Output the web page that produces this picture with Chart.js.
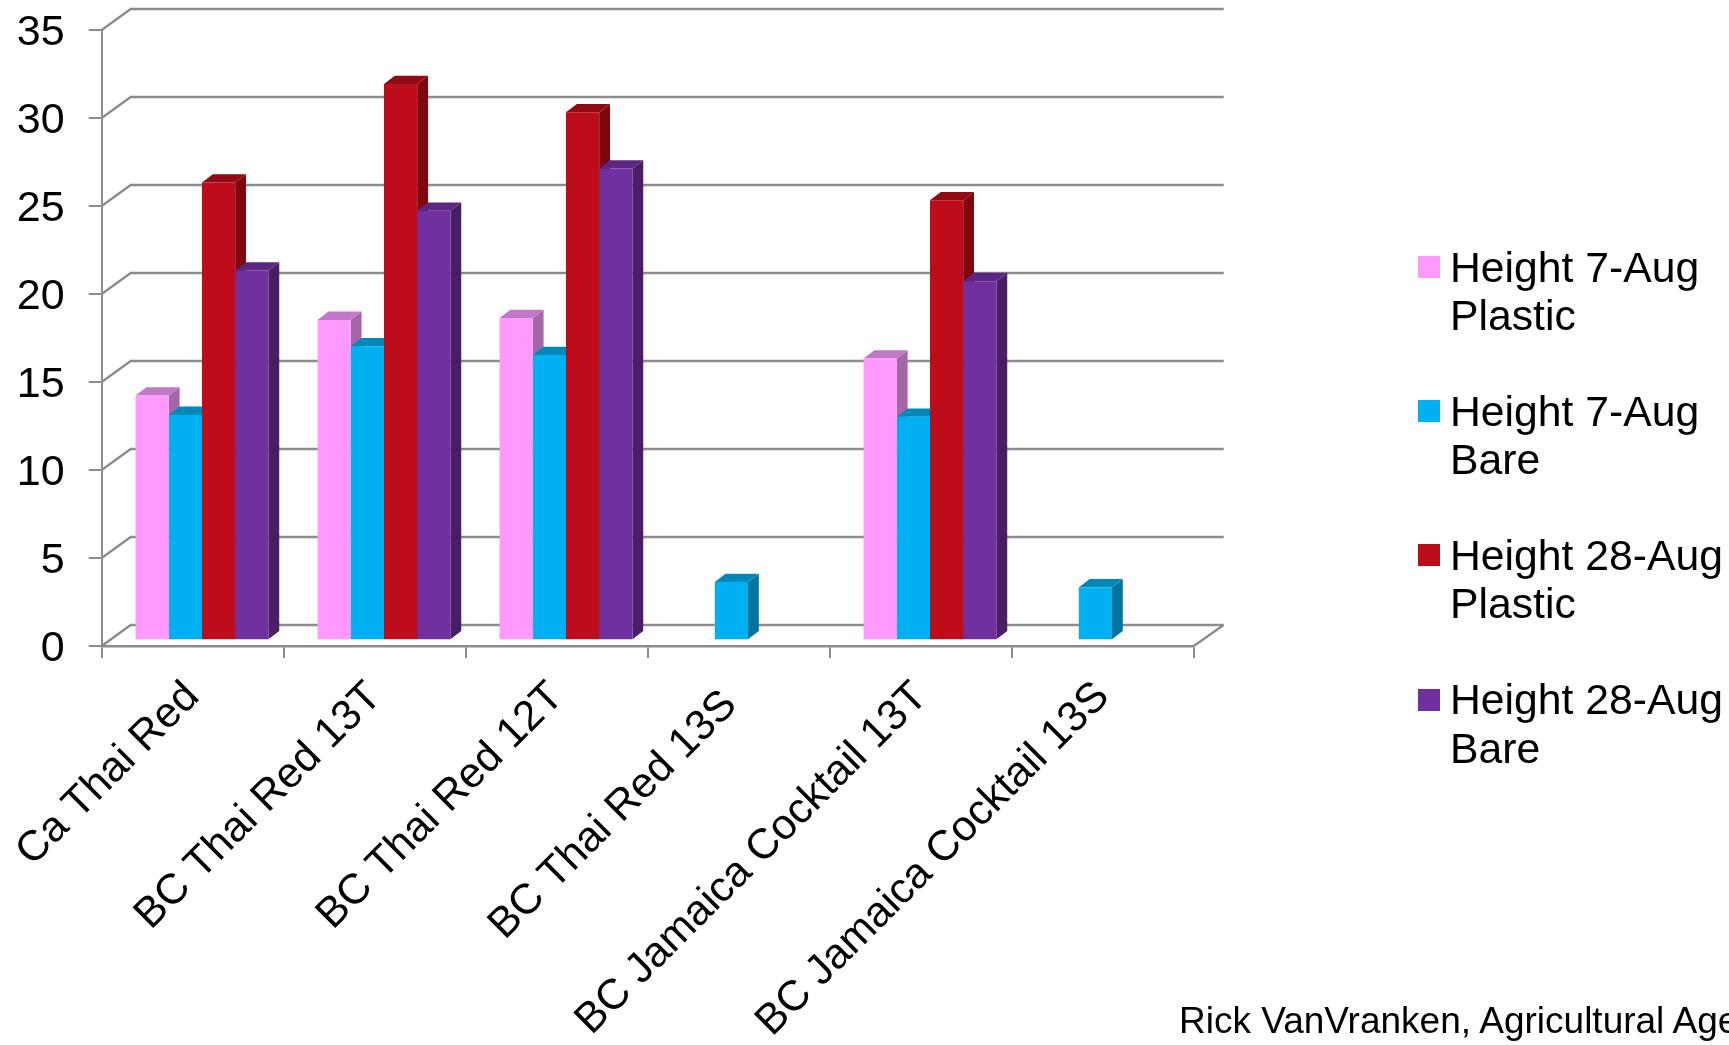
<!DOCTYPE html>
<html>
<head>
<meta charset="utf-8">
<title>Pepper heights</title>
<script src="https://cdn.jsdelivr.net/npm/chart.js@4"></script>
<style>
  html, body { margin: 0; padding: 0; background: #fff; overflow: hidden; }
  body { width: 1729px; height: 1045px; position: relative; font-family: "Liberation Sans", Arial, sans-serif; color: #000; }
  canvas { position: absolute; left: 0; top: 0; }
  #legend { position: absolute; left: 1418px; top: 242.5px; }
  .legend-item { position: relative; width: 311px; height: 97.2px; margin-bottom: 47px; padding-left: 32px; box-sizing: border-box; font-size: 42.7px; line-height: 48.6px; }
  .legend-item i { position: absolute; left: 0; top: 13.5px; width: 22px; height: 22px; }
  #credit { position: absolute; left: 1179px; top: 1000px; font-size: 37px; white-space: nowrap; }
</style>
</head>
<body>
<canvas id="heightChart" width="1729" height="1045"></canvas>
<div id="legend"></div>
<div id="credit">Rick VanVranken, Agricultural Agent</div>

<script>
// ================= DATA =================
const categories = [
  "Ca Thai Red",
  "BC Thai Red 13T",
  "BC Thai Red 12T",
  "BC Thai Red 13S ",
  "BC Jamaica Cocktail 13T",
  "BC Jamaica Cocktail 13S",
];
const seriesLabels = [
  "Height 7-Aug Plastic",
  "Height 7-Aug Bare",
  "Height 28-Aug Plastic",
  "Height 28-Aug Bare",
];
const aug7Plastic = [13.9, 18.2, 18.3, null, 16.0, null];
const aug7Bare = [12.8, 16.7, 16.2, 3.3, 12.7, 3.0];
const aug28Plastic = [26.0, 31.6, 30.0, null, 25.0, null];
const aug28Bare = [21.0, 24.4, 26.8, null, 20.4, null];
const yTicks = [0, 5, 10, 15, 20, 25, 30, 35];

// ================= COLORS =================
const frontColors = ["#FF99FF", "#00B0F0", "#BE0D1A", "#7030A0"];
const topColors = ["#C278C6", "#0088B8", "#8F0A14", "#5A2682"];
const sideColors = ["#A466A6", "#00749E", "#7E0710", "#4A1E66"];
const gridColor = "#8C8C8C";

// ================= 3D OFFSETS =================
const wall = { dx: 29, dy: 21 }; // front plane to back wall
const plane = { dx: 9.3, dy: 5.8 }; // front plane to bar fronts
const depth = { dx: 10.8, dy: 8.3 }; // bar front to bar back

function fillPoly(ctx, color, pts) {
  ctx.fillStyle = color;
  ctx.beginPath();
  pts.forEach((p, i) => (i ? ctx.lineTo(p[0], p[1]) : ctx.moveTo(p[0], p[1])));
  ctx.closePath();
  ctx.fill();
}

// back wall, floor and the slanted ends of the grid lines
const wallsPlugin = {
  id: "walls",
  beforeDatasetsDraw(chart) {
    const { ctx, chartArea, scales } = chart;
    ctx.save();
    ctx.strokeStyle = gridColor;
    ctx.lineWidth = 2.4;
    ctx.beginPath();
    yTicks.forEach((v) => {
      const y = scales.y.getPixelForValue(v);
      ctx.moveTo(chartArea.left, y);
      ctx.lineTo(chartArea.left + wall.dx, y - wall.dy);
      ctx.lineTo(chartArea.right + wall.dx + 1, y - wall.dy);
    });
    ctx.moveTo(chartArea.right, chartArea.bottom);
    ctx.lineTo(chartArea.right + wall.dx + 1, chartArea.bottom - wall.dy);
    ctx.stroke();
    ctx.restore();
  },
};

// side and top faces go first, the library then paints the fronts over them
const boxPlugin = {
  id: "boxes",
  beforeDatasetsDraw(chart) {
    const { ctx } = chart;
    ctx.save();
    ctx.translate(plane.dx, -plane.dy);
    categories.forEach((_, c) => {
      chart.data.datasets.forEach((ds, s) => {
        if (ds.data[c] === null) return;
        const bar = chart.getDatasetMeta(s).data[c];
        const left = bar.x - bar.width / 2;
        const right = bar.x + bar.width / 2;
        fillPoly(ctx, sideColors[s], [
          [right, bar.y],
          [right + depth.dx, bar.y - depth.dy],
          [right + depth.dx, bar.base - depth.dy],
          [right, bar.base],
        ]);
        fillPoly(ctx, topColors[s], [
          [left, bar.y],
          [left + depth.dx, bar.y - depth.dy],
          [right + depth.dx, bar.y - depth.dy],
          [right, bar.y],
        ]);
      });
    });
  },
  afterDatasetsDraw(chart) {
    chart.ctx.restore();
  },
};

// ================= CHART =================
const yFont = { family: '"Liberation Sans", Arial, sans-serif', size: 43 };
const xFont = { family: '"Liberation Sans", Arial, sans-serif', size: 42.5 };
const allSeries = [aug7Plastic, aug7Bare, aug28Plastic, aug28Bare];

new Chart(document.getElementById("heightChart"), {
  type: "bar",
  data: {
    labels: categories,
    datasets: allSeries.map((values, i) => ({
      label: seriesLabels[i],
      data: values,
      backgroundColor: frontColors[i],
      borderWidth: 0,
      categoryPercentage: 0.73,
      barPercentage: 1,
      clip: false,
    })),
  },
  options: {
    responsive: false,
    animation: false,
    layout: { padding: { left: 0, right: 535.3, top: 30, bottom: 0 } },
    plugins: { legend: { display: false }, tooltip: { enabled: false } },
    scales: {
      x: {
        grid: { drawOnChartArea: false, color: gridColor, lineWidth: 2, tickLength: 12 },
        border: { color: gridColor, width: 2.4 },
        ticks: {
          color: "#000",
          font: xFont,
          minRotation: 45,
          maxRotation: 45,
          autoSkip: false,
          padding: 14,
        },
        afterFit(scale) {
          scale.height = 399;
          scale.paddingLeft = 0;
          scale.paddingRight = 0;
        },
      },
      y: {
        min: 0,
        max: 35,
        grid: { drawOnChartArea: false, color: gridColor, lineWidth: 2, tickLength: 13 },
        border: { color: gridColor, width: 2 },
        ticks: {
          color: "#000",
          font: yFont,
          stepSize: 5,
          padding: 24,
          labelOffset: 3,
        },
        afterFit(scale) {
          scale.width = 101.7;
          scale.paddingTop = 0;
          scale.paddingBottom = 0;
        },
      },
    },
  },
  plugins: [wallsPlugin, boxPlugin],
});

// ================= LEGEND =================
const legend = document.getElementById("legend");
seriesLabels.forEach((label, i) => {
  const item = document.createElement("div");
  item.className = "legend-item";
  const swatch = document.createElement("i");
  swatch.style.background = frontColors[i];
  item.appendChild(swatch);
  item.appendChild(document.createTextNode(label));
  legend.appendChild(item);
});
</script>
</body>
</html>
